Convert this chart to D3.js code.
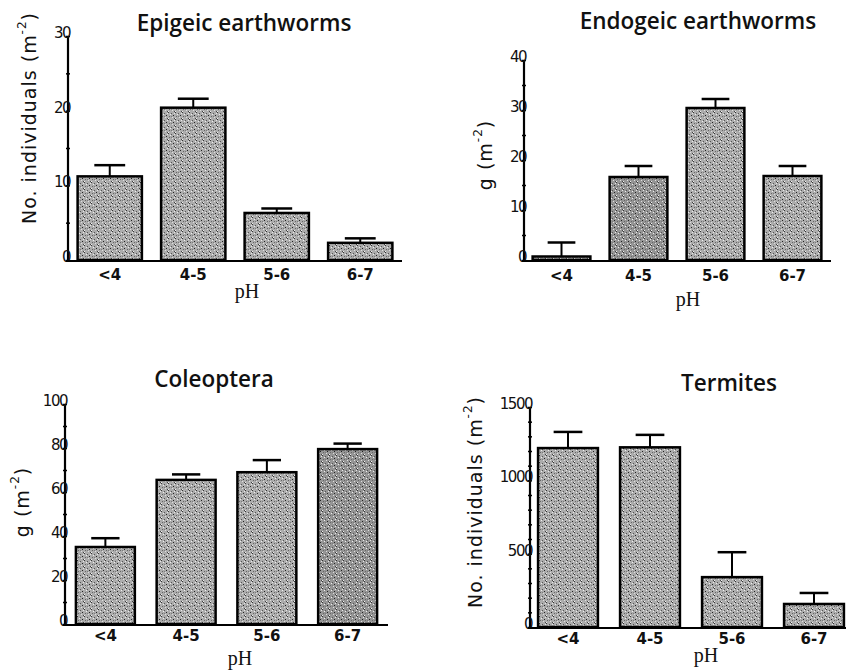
<!DOCTYPE html>
<html><head><meta charset="utf-8">
<script src="https://cdn.jsdelivr.net/npm/d3@7"></script>
<style>body{margin:0;background:#fff}svg{display:block}</style>
</head><body>
<svg id="c" width="846" height="670"></svg>
<script>
const categories = ["<4", "4-5", "5-6", "6-7"];
const epigeicMean = [11.2, 20.4, 6.3, 2.3];
const epigeicErr  = [1.5, 1.2, 0.6, 0.6];
const endogeicMean = [0.7, 16.6, 30.4, 16.8];
const endogeicErr  = [2.8, 2.2, 1.8, 2.0];
const coleopteraMean = [35, 65.5, 69, 79.5];
const coleopteraErr  = [4, 2.5, 5.5, 2.5];
const termitesMean = [1220, 1225, 340, 157];
const termitesErr  = [110, 85, 170, 75];
const epigeicTicks = [0, 10, 20, 30];
const endogeicTicks = [0, 10, 20, 30, 40];
const coleopteraTicks = [0, 20, 40, 60, 80, 100];
const termitesTicks = [0, 500, 1000, 1500];

const svg = d3.select("#c");
const defs = svg.append("defs");
const dots = [[0,0,"#333"],[3,1,"#555"],[5,3,"#222"],[1,4,"#666"],[4,5,"#ddd"],[6,6,"#444"],[2,2,"#eee"],[6,1,"#e8e8e8"],[0,6,"#f2f2f2"],[3,4,"#7a7a7a"]];
function makePattern(id, base){
  const pat = defs.append("pattern").attr("id",id).attr("patternUnits","userSpaceOnUse")
    .attr("width",7).attr("height",7);
  pat.append("rect").attr("width",7).attr("height",7).attr("fill",base);
  dots.forEach(d=>pat.append("rect").attr("x",d[0]).attr("y",d[1]).attr("width",1).attr("height",1).attr("fill",d[2]));
}
makePattern("stip","#acacac");
makePattern("stipD","#959595");

const panels = [
  {title:"Epigeic earthworms", tx:244, ty:31, ylab:"No. individuals (m", ylx:30, yly:118,
   mean:epigeicMean, err:epigeicErr, ticks:epigeicTicks, minor:5, max:30,
   ax:68, yTop:36, y0:260, xEnd:402, xr:[68,402], pad:0.23, tly:280, phx:247, phy:298, fills:[0,0,0,0]},
  {title:"Endogeic earthworms", tx:698, ty:29, ylab:"g (m", ylx:486, yly:155,
   mean:endogeicMean, err:endogeicErr, ticks:endogeicTicks, minor:5, max:40,
   ax:524, yTop:60, y0:260, xEnd:831, xr:[523,831], pad:0.25, tly:281, phx:688, phy:306, fills:[1,1,0,0]},
  {title:"Coleoptera", tx:214, ty:387, ylab:"g (m", ylx:23, yly:502,
   mean:coleopteraMean, err:coleopteraErr, ticks:coleopteraTicks, minor:10, max:100,
   ax:65, yTop:404, y0:624, xEnd:388, xr:[65,388], pad:0.27, tly:641, phx:240, phy:665, fills:[0,0,0,1]},
  {title:"Termites", tx:729, ty:391, ylab:"No. individuals (m", ylx:476, yly:502,
   mean:termitesMean, err:termitesErr, ticks:termitesTicks, minor:100, max:1500,
   ax:530, yTop:407, y0:627, xEnd:846, xr:[527,855], pad:0.27, tly:644, phx:706, phy:662, fills:[0,0,0,0]}
];

panels.forEach(p=>{
  const g = svg.append("g");
  const x = d3.scaleBand().domain(categories).range(p.xr).paddingInner(p.pad).paddingOuter(p.pad/2);
  const y = d3.scaleLinear().domain([0,p.max]).range([p.y0,p.yTop]);
  g.append("text").attr("x",p.tx).attr("y",p.ty).attr("text-anchor","middle")
    .attr("font-family","'Open Sans', sans-serif").attr("font-weight",600).attr("font-size",22.5)
    .attr("fill","#111").text(p.title);
  const yl = g.append("text").attr("transform",`translate(${p.ylx},${p.yly}) rotate(-90)`)
    .attr("text-anchor","middle").attr("dominant-baseline","middle")
    .attr("font-family","'DejaVu Sans', sans-serif").attr("font-size",19).attr("letter-spacing",1)
    .attr("fill","#111");
  yl.append("tspan").text(p.ylab);
  yl.append("tspan").attr("font-size",12).attr("dy",-8).text("-2");
  yl.append("tspan").attr("dy",8).text(")");
  g.selectAll("rect.bar").data(p.mean).join("rect")
    .attr("x",(d,i)=>x(categories[i])).attr("width",x.bandwidth())
    .attr("y",d=>y(d)).attr("height",d=>p.y0-y(d))
    .attr("fill",(d,i)=>p.fills[i]?"url(#stipD)":"url(#stip)")
    .attr("stroke","#000").attr("stroke-width",2.5);
  const cx = i=>x(categories[i])+x.bandwidth()/2;
  const cap = x.bandwidth()*0.48;
  p.mean.forEach((m,i)=>{
    g.append("line").attr("x1",cx(i)).attr("x2",cx(i)).attr("y1",y(m)).attr("y2",y(m+p.err[i]))
      .attr("stroke","#000").attr("stroke-width",2);
    g.append("line").attr("x1",cx(i)-cap/2).attr("x2",cx(i)+cap/2).attr("y1",y(m+p.err[i])).attr("y2",y(m+p.err[i]))
      .attr("stroke","#000").attr("stroke-width",2.5);
  });
  const minorTicks = d3.range(0,p.max+1e-9,p.minor);
  const ya = d3.axisLeft(y).tickValues(minorTicks).tickSize(3).tickFormat("");
  const yg = g.append("g").attr("transform",`translate(${p.ax},0)`).call(ya);
  yg.select(".domain").remove();
  yg.selectAll(".tick line").attr("x2",-2).attr("x1",2).attr("stroke-width",1.5);
  g.append("line").attr("x1",p.ax).attr("x2",p.ax).attr("y1",p.yTop).attr("y2",p.y0+1)
    .attr("stroke","#000").attr("stroke-width",2.2);
  g.selectAll("text.yt").data(p.ticks).join("text")
    .attr("x",p.ax+2).attr("y",d=>y(d)+2).attr("text-anchor","end")
    .attr("font-family","'DejaVu Sans', sans-serif").attr("font-size",15)
    .attr("letter-spacing",-1.5).attr("fill","#111").text(d=>d);
  g.append("line").attr("x1",p.ax-2).attr("x2",p.xEnd).attr("y1",p.y0+1).attr("y2",p.y0+1)
    .attr("stroke","#000").attr("stroke-width",2.2);
  const xa = d3.axisBottom(x).tickSize(0).tickPadding(0);
  const xg = g.append("g").attr("transform",`translate(0,${p.tly})`).call(xa);
  xg.select(".domain").remove();
  xg.selectAll(".tick text").attr("dy",0).attr("font-family","'DejaVu Sans', sans-serif")
    .attr("font-weight","bold").attr("font-size",15).attr("fill","#111");
  g.append("text").attr("x",p.phx).attr("y",p.phy).attr("text-anchor","middle")
    .attr("font-family","'Liberation Serif', serif").attr("font-size",20).attr("fill","#111").text("pH");
});
</script>
</body></html>
